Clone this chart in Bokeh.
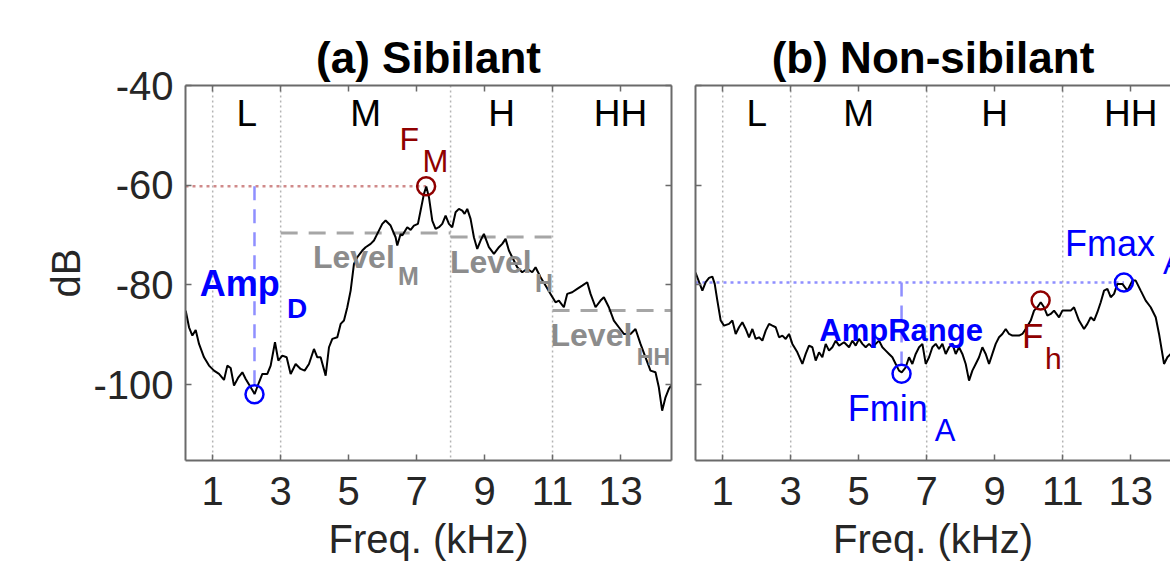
from bokeh.plotting import figure
from bokeh.models import Label, Span, LinearAxis, FixedTicker, Range1d
from bokeh.layouts import row
from bokeh.embed import file_html
from bokeh.resources import INLINE

FONT = "Liberation Sans"

# ---------------- data ----------------
x_ticks = [1, 3, 5, 7, 9, 11, 13]
y_ticks = [-100, -80, -60, -40]
y_tick_labels = ["-100", "-80", "-60", "-40"]
band_names = ["L", "M", "H", "HH"]
band_edges_a = [1, 3, 8, 11, 15]
band_edges_b = [1, 3, 7, 11, 15]

freq_a = [0.206, 0.304, 0.402, 0.500, 0.598, 0.745, 0.892, 1.039, 1.186, 1.333, 1.431, 1.529,
          1.627, 1.745, 1.873, 1.971, 2.118, 2.235, 2.363, 2.461, 2.608, 2.706, 2.833, 2.931,
          3.049, 3.176, 3.294, 3.441, 3.588, 3.706, 3.833, 3.980, 4.078, 4.176, 4.324, 4.422,
          4.520, 4.667, 4.765, 4.863, 4.961, 5.059, 5.157, 5.255, 5.402, 5.500, 5.647, 5.745,
          5.843, 5.990, 6.088, 6.235, 6.382, 6.431, 6.529, 6.578, 6.725, 6.824, 6.922, 7.039,
          7.118, 7.216, 7.284, 7.363, 7.461, 7.559, 7.657, 7.755, 7.853, 7.951, 8.049, 8.147,
          8.245, 8.343, 8.412, 8.490, 8.588, 8.686, 8.784, 8.882, 8.980, 9.127, 9.275, 9.422,
          9.520, 9.618, 9.716, 9.814, 9.961, 10.108, 10.255, 10.402, 10.500, 10.647, 10.794,
          10.941, 11.088, 11.186, 11.333, 11.431, 11.578, 11.725, 11.873, 12.020, 12.118,
          12.265, 12.412, 12.510, 12.657, 12.804, 12.951, 13.098, 13.294, 13.441, 13.588,
          13.735, 13.882, 14.029, 14.127, 14.225, 14.324, 14.422, 14.490]
db_a = [-85.14, -88.48, -90.15, -89.02, -91.82, -94.50, -96.17, -97.17, -97.84, -99.05, -96.17,
        -96.64, -100.18, -98.64, -97.51, -98.85, -100.52, -101.86, -99.51, -97.84, -97.84,
        -96.17, -91.49, -95.17, -94.17, -94.50, -97.84, -95.84, -96.84, -97.17, -95.84, -92.83,
        -94.50, -94.50, -98.18, -92.49, -90.82, -90.49, -87.81, -87.14, -84.47, -81.13, -75.78,
        -74.44, -73.10, -72.43, -71.76, -71.09, -69.76, -67.75, -67.08, -68.09, -70.43, -72.10,
        -69.76, -70.09, -68.42, -68.95, -68.09, -67.75, -65.08, -61.73, -60.26, -62.40, -67.08,
        -68.75, -68.42, -67.75, -66.08, -67.75, -68.42, -65.41, -64.74, -65.08, -65.75, -64.74,
        -66.75, -70.43, -72.77, -71.09, -69.76, -72.43, -73.77, -72.43, -71.76, -70.76, -73.10,
        -74.44, -76.44, -77.45, -76.78, -77.45, -76.44, -78.45, -80.12, -81.79, -83.47, -83.13,
        -84.47, -81.79, -81.46, -80.79, -80.12, -79.45, -81.79, -84.47, -83.13, -82.46, -84.47,
        -87.14, -88.48, -89.82, -89.82, -88.82, -91.82, -94.50, -97.17, -97.51, -100.52,
        -105.20, -102.52, -100.85, -100.18]

freq_b = [0.200, 0.402, 0.500, 0.598, 0.696, 0.765, 0.843, 0.941, 1.039, 1.186, 1.284, 1.382,
          1.480, 1.578, 1.676, 1.775, 1.873, 1.971, 2.069, 2.167, 2.265, 2.363, 2.461, 2.559,
          2.657, 2.755, 2.853, 2.951, 3.049, 3.196, 3.343, 3.441, 3.539, 3.637, 3.735, 3.833,
          3.931, 4.029, 4.127, 4.225, 4.324, 4.422, 4.569, 4.716, 4.814, 4.912, 5.010, 5.108,
          5.206, 5.304, 5.402, 5.500, 5.598, 5.696, 5.794, 5.892, 5.990, 6.088, 6.186, 6.265,
          6.382, 6.480, 6.578, 6.676, 6.775, 6.873, 6.971, 7.069, 7.167, 7.265, 7.363, 7.461,
          7.559, 7.657, 7.755, 7.853, 7.951, 8.049, 8.147, 8.245, 8.343, 8.441, 8.539, 8.637,
          8.735, 8.833, 8.931, 9.029, 9.127, 9.225, 9.324, 9.422, 9.520, 9.618, 9.716, 9.814,
          9.912, 10.059, 10.157, 10.255, 10.353, 10.451, 10.549, 10.647, 10.745, 10.892, 10.990,
          11.088, 11.235, 11.333, 11.480, 11.627, 11.725, 11.824, 11.922, 12.020, 12.118,
          12.216, 12.314, 12.412, 12.510, 12.608, 12.755, 12.902, 13.049, 13.147, 13.294,
          13.441, 13.588, 13.735, 13.833, 13.931, 13.980, 14.078, 14.176]
db_b = [-77.50, -81.13, -79.45, -78.58, -78.32, -79.79, -83.13, -87.14, -88.15, -87.81, -87.14,
        -89.82, -88.48, -87.48, -88.82, -90.49, -88.82, -90.82, -90.49, -91.16, -89.15, -87.81,
        -88.15, -88.48, -90.49, -90.15, -90.82, -89.82, -91.82, -93.50, -95.84, -93.83, -92.16,
        -92.49, -95.17, -93.50, -94.50, -91.82, -93.16, -92.49, -91.16, -92.16, -91.49, -92.49,
        -91.16, -92.16, -90.82, -91.82, -92.49, -91.82, -92.49, -91.82, -91.16, -92.49, -93.16,
        -93.83, -94.50, -95.84, -97.17, -97.51, -96.51, -94.50, -95.84, -93.83, -92.49, -91.82,
        -95.84, -94.50, -92.49, -91.82, -92.83, -91.82, -93.83, -92.49, -91.82, -93.83, -92.49,
        -93.83, -95.84, -99.18, -97.17, -95.84, -94.50, -92.49, -93.83, -95.84, -93.83, -91.82,
        -90.49, -89.82, -88.82, -89.82, -90.15, -90.15, -90.15, -89.82, -88.82, -87.14, -85.14,
        -84.47, -83.47, -84.47, -86.14, -85.81, -85.14, -86.48, -85.14, -85.14, -85.14, -84.47,
        -87.14, -88.82, -87.81, -86.48, -87.14, -85.47, -83.47, -81.13, -80.79, -82.46, -81.79,
        -79.79, -79.79, -81.13, -79.12, -79.12, -81.13, -83.13, -84.47, -86.48, -89.82, -93.83,
        -95.84, -94.50, -93.83]

# feature points (freq kHz, dB)
ampd_pt = [2.23, -101.9]
fm_pt = [7.28, -60.2]
fmin_pt = [6.26, -97.8]
fh_pt = [10.35, -83.1]
fmax_pt = [12.80, -79.5]

# band levels for panel (a)
level_lo = [3, 8, 11]
level_hi = [8, 11, 14.5]
level_val = [-69.6, -70.4, -85.1]

BLUE = "#0000ff"
DRED = "#8f0000"
GRAY_TXT = "#8c8c8c"
AX = "#6a6a6a"
TXT = "#262626"


def base_fig(width, x_end, border_left, border_right, left_labels, right_axis, title, title_off):
    p = figure(width=width, height=568, x_range=Range1d(0.2, x_end), y_range=Range1d(-115.2, -40),
               output_backend="svg", toolbar_location=None,
               min_border_left=border_left, min_border_right=border_right,
               min_border_top=85, min_border_bottom=108)
    p.background_fill_color = "white"
    p.border_fill_color = "white"
    p.outline_line_color = None
    p.xgrid.visible = False
    p.ygrid.visible = False
    bottom = p.below[0]
    left = p.left[0]
    top = LinearAxis()
    p.add_layout(top, "above")
    axes = [bottom, left, top]
    hidden = [top]
    if right_axis:
        rt = LinearAxis()
        p.add_layout(rt, "right")
        axes.append(rt)
        hidden.append(rt)
        rt.ticker = FixedTicker(ticks=y_ticks)
    for ax in axes:
        ax.axis_line_color = AX
        ax.axis_line_width = 2
        ax.major_tick_line_color = AX
        ax.major_tick_line_width = 1.5
        ax.major_tick_in = 6
        ax.major_tick_out = 0
        ax.minor_tick_line_color = None
        ax.major_label_text_font = FONT
        ax.major_label_text_color = TXT
    bottom.ticker = FixedTicker(ticks=x_ticks)
    top.ticker = FixedTicker(ticks=x_ticks)
    left.ticker = FixedTicker(ticks=y_ticks)
    bottom.major_label_text_font_size = "40px"
    bottom.major_label_standoff = 16
    bottom.axis_label = "Freq. (kHz)"
    bottom.axis_label_text_font = FONT
    bottom.axis_label_text_font_size = "40px"
    bottom.axis_label_text_font_style = "normal"
    bottom.axis_label_text_color = TXT
    bottom.axis_label_standoff = 9
    if left_labels:
        left.major_label_overrides = dict(zip(y_ticks, y_tick_labels))
        left.major_label_text_font_size = "40px"
        left.major_label_standoff = 12
        left.axis_label = "dB"
        left.axis_label_text_font = FONT
        left.axis_label_text_font_size = "40px"
        left.axis_label_text_font_style = "normal"
        left.axis_label_text_color = TXT
        left.axis_label_standoff = 2
    else:
        hidden.append(left)
    for ax in hidden:
        ticks = x_ticks if ax is top else y_ticks
        ax.major_label_overrides = {t: "" for t in ticks}
        ax.major_label_standoff = 0
        ax.major_label_text_font_size = "1px"
    p.title.text = title
    p.title.align = "center"
    p.title.text_font = FONT
    p.title.text_font_size = "44px"
    p.title.text_font_style = "bold"
    p.title.text_color = "black"
    p.title.standoff = 8
    p.title.offset = title_off
    return p


def lab(p, x, y, text, size, color, bold=False, align="left"):
    p.add_layout(Label(x=x, y=y, text=text, text_font=FONT, text_font_size=f"{size}px",
                       text_color=color, text_font_style="bold" if bold else "normal",
                       text_align=align, text_baseline="alphabetic",
                       y_offset=round(0.33 * size)))


def bands(p, edges):
    for e in edges[:-1]:
        p.add_layout(Span(location=e, dimension="height", line_color="#b4b4b4",
                          line_dash="2 3", line_width=1.5, level="underlay"))
    for i, name in enumerate(band_names):
        lab(p, (edges[i] + edges[i + 1]) / 2, -48.0, name, 37, "black", align="center")


# ---------------- panel (a) ----------------
pa = base_fig(683, 14.5, 185, 12, True, True, "(a) Sibilant", 0)
bands(pa, band_edges_a)
pa.segment(x0=level_lo, x1=level_hi, y0=level_val, y1=level_val, line_color="#a6a6a6",
           line_width=3, line_dash="17 11")
pa.segment(x0=[0.2], x1=[fm_pt[0]], y0=[fm_pt[1]], y1=[fm_pt[1]], line_color="#d08a8a",
           line_width=2.5, line_dash="3 4")
pa.segment(x0=[ampd_pt[0]], x1=[ampd_pt[0]], y0=[fm_pt[1]], y1=[ampd_pt[1]], line_color="#8f8fff",
           line_width=2.5, line_dash="14 9")
pa.line(freq_a, db_a, line_color="black", line_width=2)
pa.scatter(x=[ampd_pt[0]], y=[ampd_pt[1]], marker="circle", size=18, fill_color=None,
           line_color=BLUE, line_width=2.5)
pa.scatter(x=[fm_pt[0]], y=[fm_pt[1]], marker="circle", size=18, fill_color=None,
           line_color=DRED, line_width=2.5)

lab(pa, 0.62, -82.1, "Amp", 36, BLUE, bold=True)
lab(pa, 3.19, -86.5, "D", 28, BLUE, bold=True)
lab(pa, 6.50, -53.0, "F", 32, DRED)
lab(pa, 7.17, -57.3, "M", 31, DRED)
lab(pa, 3.95, -76.5, "Level", 32, GRAY_TXT, bold=True)
lab(pa, 6.45, -79.8, "M", 25, GRAY_TXT, bold=True)
lab(pa, 7.98, -77.5, "Level", 32, GRAY_TXT, bold=True)
lab(pa, 10.48, -81.2, "H", 25, GRAY_TXT, bold=True)
lab(pa, 10.94, -92.2, "Level", 32, GRAY_TXT, bold=True)
lab(pa, 13.48, -96.0, "HH", 23, GRAY_TXT, bold=True)

# ---------------- panel (b) ----------------
pb = base_fig(487, 14.17, 12, 0, False, False, "(b) Non-sibilant", 12)
bands(pb, band_edges_b)
pb.segment(x0=[0.2], x1=[fmax_pt[0]], y0=[fmax_pt[1]], y1=[fmax_pt[1]], line_color="#8f8fff",
           line_width=2.5, line_dash="3 4")
pb.segment(x0=[fmin_pt[0]], x1=[fmin_pt[0]], y0=[fmax_pt[1]], y1=[fmin_pt[1]], line_color="#8f8fff",
           line_width=2.5, line_dash="14 9")
pb.line(freq_b, db_b, line_color="black", line_width=2)
pb.scatter(x=[fmin_pt[0], fmax_pt[0]], y=[fmin_pt[1], fmax_pt[1]], marker="circle", size=18,
           fill_color=None, line_color=BLUE, line_width=2.5)
pb.scatter(x=[fh_pt[0]], y=[fh_pt[1]], marker="circle", size=18, fill_color=None,
           line_color=DRED, line_width=2.5)

lab(pb, 3.84, -91.2, "AmpRange", 31, BLUE, bold=True)
lab(pb, 4.68, -107.2, "Fmin", 36, BLUE)
lab(pb, 7.24, -111.2, "A", 31, BLUE)
lab(pb, 9.80, -92.6, "F", 35, DRED)
lab(pb, 10.48, -96.8, "h", 30, DRED)
lab(pb, 11.07, -74.1, "Fmax", 36, BLUE)
lab(pb, 13.95, -77.7, "A", 31, BLUE)

layout = row(pa, pb)
open("out.html", "w").write(file_html(layout, INLINE))
